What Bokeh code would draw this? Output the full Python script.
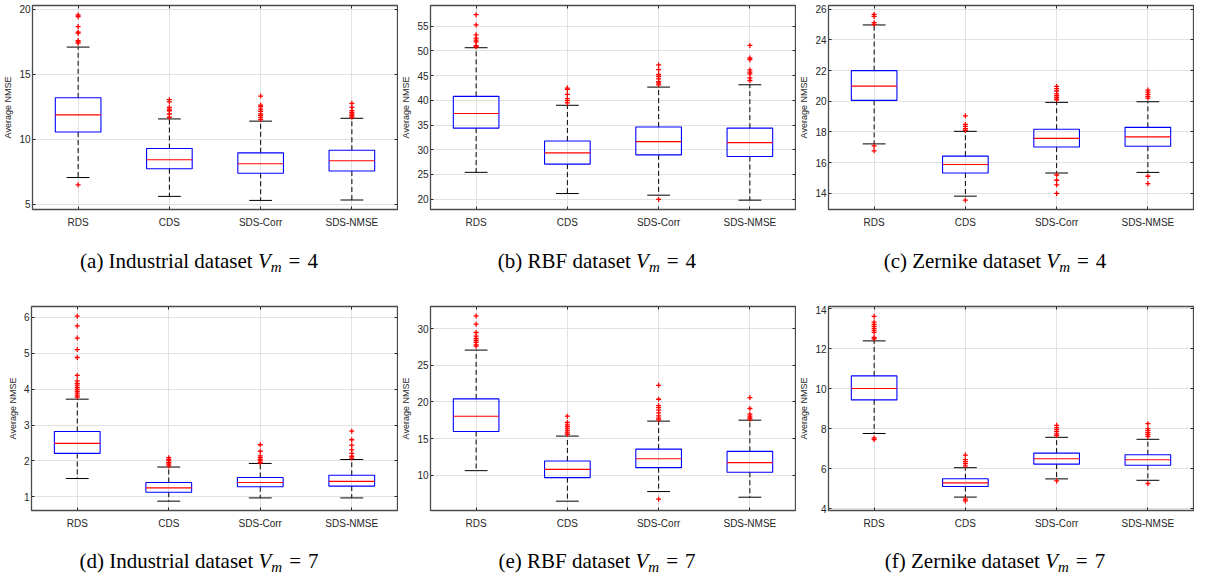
import numpy as np
from bokeh.plotting import figure
from bokeh.layouts import column, row
from bokeh.models import Div, FixedTicker, LinearAxis, Range1d
from bokeh.embed import file_html
from bokeh.resources import INLINE

categories = ["RDS", "CDS", "SDS-Corr", "SDS-NMSE"]

# (a) Industrial dataset Vm = 4
ind4_lo = [7.06, 5.61, 5.30, 5.33]
ind4_q1 = [10.56, 7.74, 7.39, 7.56]
ind4_med = [11.88, 8.43, 8.12, 8.35]
ind4_q3 = [13.20, 9.29, 8.96, 9.16]
ind4_hi = [17.10, 11.57, 11.40, 11.62]
ind4_out = [[19.57, 19.44, 18.68, 18.25, 18.17, 17.60, 17.50, 17.40, 6.50],
            [13.05, 12.89, 12.46, 12.33, 12.20, 11.95, 11.70],
            [13.33, 12.64, 12.51, 12.33, 12.16, 11.95, 11.83, 11.67, 11.52],
            [12.77, 12.46, 12.21, 12.08, 11.95, 11.83, 11.70]]
ind4_ylim = [4.6, 20.3]
ind4_ticks = [5, 10, 15, 20]

# (b) RBF dataset Vm = 4
rbf4_lo = [25.42, 21.13, 20.80, 19.79]
rbf4_q1 = [34.38, 27.09, 28.96, 28.63]
rbf4_med = [37.33, 29.36, 31.64, 31.44]
rbf4_q3 = [40.81, 31.77, 34.59, 34.38]
rbf4_hi = [50.65, 39.00, 42.68, 43.15]
rbf4_out = [[57.34, 55.27, 53.26, 52.59, 52.19, 51.85, 51.05, 50.85],
            [42.48, 42.22, 41.21, 40.34, 39.94, 39.47],
            [47.17, 46.23, 45.23, 44.83, 44.36, 43.76, 43.49, 43.15, 19.93],
            [51.12, 48.57, 48.24, 46.16, 45.70, 45.36, 44.56, 44.02]]
rbf4_ylim = [17.9, 59.2]
rbf4_ticks = [20, 25, 30, 35, 40, 45, 50, 55]

# (c) Zernike dataset Vm = 4
zer4_lo = [17.22, 13.81, 15.32, 15.36]
zer4_q1 = [20.06, 15.32, 17.02, 17.07]
zer4_med = [20.99, 15.88, 17.58, 17.68]
zer4_q3 = [22.00, 16.42, 18.18, 18.30]
zer4_hi = [24.98, 18.04, 19.93, 19.97]
zer4_out = [[25.67, 25.54, 25.13, 25.02, 17.09, 16.77],
            [19.05, 18.49, 18.36, 18.21, 18.10, 13.55],
            [20.97, 20.82, 20.67, 20.49, 20.36, 20.23, 20.10, 15.19, 14.85, 14.55, 13.99],
            [20.73, 20.60, 20.45, 20.32, 20.21, 15.11, 14.63]]
zer4_ylim = [12.94, 26.25]
zer4_ticks = [14, 16, 18, 20, 22, 24, 26]

# (d) Industrial dataset Vm = 7
ind7_lo = [1.51, 0.88, 0.97, 0.97]
ind7_q1 = [2.21, 1.13, 1.28, 1.30]
ind7_med = [2.49, 1.25, 1.40, 1.43]
ind7_q3 = [2.82, 1.40, 1.54, 1.60]
ind7_hi = [3.72, 1.83, 1.93, 2.04]
ind7_out = [[6.03, 5.76, 5.42, 5.10, 4.88, 4.38, 4.23, 4.16, 4.11, 4.05, 4.00, 3.94, 3.89, 3.83, 3.78],
            [2.09, 2.04, 2.00, 1.95, 1.91, 1.86],
            [2.45, 2.27, 2.14, 2.09, 2.04, 2.00, 1.95],
            [2.83, 2.59, 2.44, 2.31, 2.21, 2.13, 2.08]]
ind7_ylim = [0.62, 6.30]
ind7_ticks = [1, 2, 3, 4, 5, 6]

# (e) RBF dataset Vm = 7
rbf7_lo = [10.63, 6.47, 7.78, 7.01]
rbf7_q1 = [15.97, 9.68, 11.04, 10.41]
rbf7_med = [18.05, 10.81, 12.26, 11.72]
rbf7_q3 = [20.41, 11.95, 13.57, 13.26]
rbf7_hi = [27.06, 15.34, 17.38, 17.51]
rbf7_out = [[31.72, 30.59, 29.46, 28.96, 28.64, 28.37, 28.10, 27.78, 27.60],
            [18.05, 17.19, 16.88, 16.61, 16.33, 16.06, 15.79, 15.57],
            [22.26, 20.36, 19.50, 19.23, 18.87, 18.51, 18.10, 17.78, 17.56, 6.74],
            [20.59, 19.10, 18.33, 18.05, 17.83, 17.65]]
rbf7_ylim = [5.2, 33.0]
rbf7_ticks = [10, 15, 20, 25, 30]

# (f) Zernike dataset Vm = 7
zer7_lo = [7.75, 4.57, 5.48, 5.41]
zer7_q1 = [9.43, 5.10, 6.22, 6.16]
zer7_med = [10.00, 5.28, 6.49, 6.44]
zer7_q3 = [10.63, 5.49, 6.77, 6.69]
zer7_hi = [12.38, 6.04, 7.56, 7.46]
zer7_out = [[13.61, 13.32, 13.21, 13.11, 13.01, 12.91, 12.81, 12.55, 12.48, 7.53, 7.45],
            [6.67, 6.44, 6.34, 6.24, 6.13, 4.47, 4.38],
            [8.16, 8.04, 7.94, 7.84, 7.73, 7.65, 5.38],
            [8.24, 7.99, 7.89, 7.79, 7.70, 7.60, 5.25]]
zer7_ylim = [3.9, 14.1]
zer7_ticks = [4, 6, 8, 10, 12, 14]

captions = ["(a) Industrial dataset", "(b) RBF dataset", "(c) Zernike dataset",
            "(d) Industrial dataset", "(e) RBF dataset", "(f) Zernike dataset"]
vm_values = [4, 4, 4, 7, 7, 7]

FONT = "Liberation Sans"
TXT = "#262626"
FIG_W = 398


def make_panel(lo, q1, med, q3, hi, out, ylim, ticks, top):
    xs = np.arange(1, len(categories) + 1, dtype=float)
    p = figure(width=FIG_W, height=top + 206 + 19, x_range=Range1d(0.5, 4.5),
               y_range=Range1d(ylim[0], ylim[1]), output_backend="svg",
               toolbar_location=None, min_border_left=31, min_border_right=1,
               min_border_top=top, min_border_bottom=19)
    p.background_fill_color = "white"
    p.border_fill_color = "white"
    p.outline_line_color = "#4a4a4a"
    p.outline_line_width = 1.3

    # axes
    p.yaxis.ticker = FixedTicker(ticks=ticks)
    p.xaxis.ticker = FixedTicker(ticks=list(xs))
    p.xaxis.major_label_overrides = {int(x): c for x, c in zip(xs, categories)}
    for ax in (p.xaxis[0], p.yaxis[0]):
        ax.axis_line_color = None
        ax.major_tick_in = 3
        ax.major_tick_out = 0
        ax.major_tick_line_color = TXT
        ax.minor_tick_line_color = None
        ax.major_label_text_font = FONT
        ax.major_label_text_font_size = "10px"
        ax.major_label_text_color = TXT
    p.xaxis.major_label_standoff = 7
    p.yaxis.major_label_standoff = 2
    p.yaxis.axis_label = "Average NMSE"
    p.yaxis.axis_label_text_font = FONT
    p.yaxis.axis_label_text_font_size = "9px"
    p.yaxis.axis_label_text_font_style = "normal"
    p.yaxis.axis_label_text_color = TXT
    p.yaxis.axis_label_standoff = 3

    # box-frame ticks on right and top
    ra = LinearAxis(ticker=FixedTicker(ticks=ticks),
                    major_label_overrides={t: "" for t in ticks},
                    axis_line_color=None, major_tick_in=3, major_tick_out=0,
                    major_tick_line_color=TXT, minor_tick_line_color=None,
                    major_label_standoff=0)
    p.add_layout(ra, "right")
    ta = LinearAxis(ticker=FixedTicker(ticks=list(xs)),
                    major_label_overrides={int(x): "" for x in xs},
                    axis_line_color=None, major_tick_in=3, major_tick_out=0,
                    major_tick_line_color=TXT, minor_tick_line_color=None,
                    major_label_standoff=0)
    p.add_layout(ta, "above")

    # grid
    p.xgrid.ticker = FixedTicker(ticks=list(xs))
    p.ygrid.ticker = FixedTicker(ticks=ticks)
    for g in (p.xgrid[0], p.ygrid[0]):
        g.grid_line_color = "#e2e2e2"
        g.grid_line_width = 1

    # whiskers (dashed)
    p.segment(x0=xs, x1=xs, y0=q3, y1=hi, line_color="black", line_width=1, line_dash="5 3")
    p.segment(x0=xs, x1=xs, y0=q1, y1=lo, line_color="black", line_width=1, line_dash="5 3")
    # caps
    p.segment(x0=xs - 0.125, x1=xs + 0.125, y0=hi, y1=hi, line_color="black", line_width=1)
    p.segment(x0=xs - 0.125, x1=xs + 0.125, y0=lo, y1=lo, line_color="black", line_width=1)
    # boxes
    p.vbar(x=xs, width=0.5, bottom=q1, top=q3, fill_color="white", fill_alpha=0,
           line_color="#0000ff", line_width=1.1)
    # medians
    p.segment(x0=xs - 0.25, x1=xs + 0.25, y0=med, y1=med, line_color="#ff0000", line_width=1.1)
    # outliers
    ox = [x for x, vals in zip(xs, out) for _ in vals]
    oy = [v for vals in out for v in vals]
    p.scatter(x=ox, y=oy, marker="cross", size=5, line_color="#ff0000", line_width=1.3)
    return p


def make_caption(i, height, pad):
    html = ('<div style="text-align:center;font-family:\'Liberation Serif\',\'Times New Roman\',serif;'
            'font-size:21px;line-height:21px;color:#000;white-space:nowrap;'
            f'padding-top:{pad}px;width:{FIG_W}px;">'
            f'{captions[i]} <i>V<span style="font-size:15px;position:relative;top:4px;">m</span></i>'
            f'&#8202; = &#8202;{vm_values[i]}</div>')
    return Div(text=html, width=FIG_W, height=height, margin=(0, 0, 0, 0))


panels_top = [
    make_panel(ind4_lo, ind4_q1, ind4_med, ind4_q3, ind4_hi, ind4_out, ind4_ylim, ind4_ticks, 5),
    make_panel(rbf4_lo, rbf4_q1, rbf4_med, rbf4_q3, rbf4_hi, rbf4_out, rbf4_ylim, rbf4_ticks, 5),
    make_panel(zer4_lo, zer4_q1, zer4_med, zer4_q3, zer4_hi, zer4_out, zer4_ylim, zer4_ticks, 5),
]
panels_bot = [
    make_panel(ind7_lo, ind7_q1, ind7_med, ind7_q3, ind7_hi, ind7_out, ind7_ylim, ind7_ticks, 1),
    make_panel(rbf7_lo, rbf7_q1, rbf7_med, rbf7_q3, rbf7_hi, rbf7_out, rbf7_ylim, rbf7_ticks, 1),
    make_panel(zer7_lo, zer7_q1, zer7_med, zer7_q3, zer7_hi, zer7_out, zer7_ylim, zer7_ticks, 1),
]
caps_top = [make_caption(i, 75, 21) for i in range(3)]
caps_bot = [make_caption(i, 41, 20) for i in range(3, 6)]

layout = column(row(*panels_top), row(*caps_top), row(*panels_bot), row(*caps_bot))

open("out.html", "w").write(file_html(layout, INLINE))
